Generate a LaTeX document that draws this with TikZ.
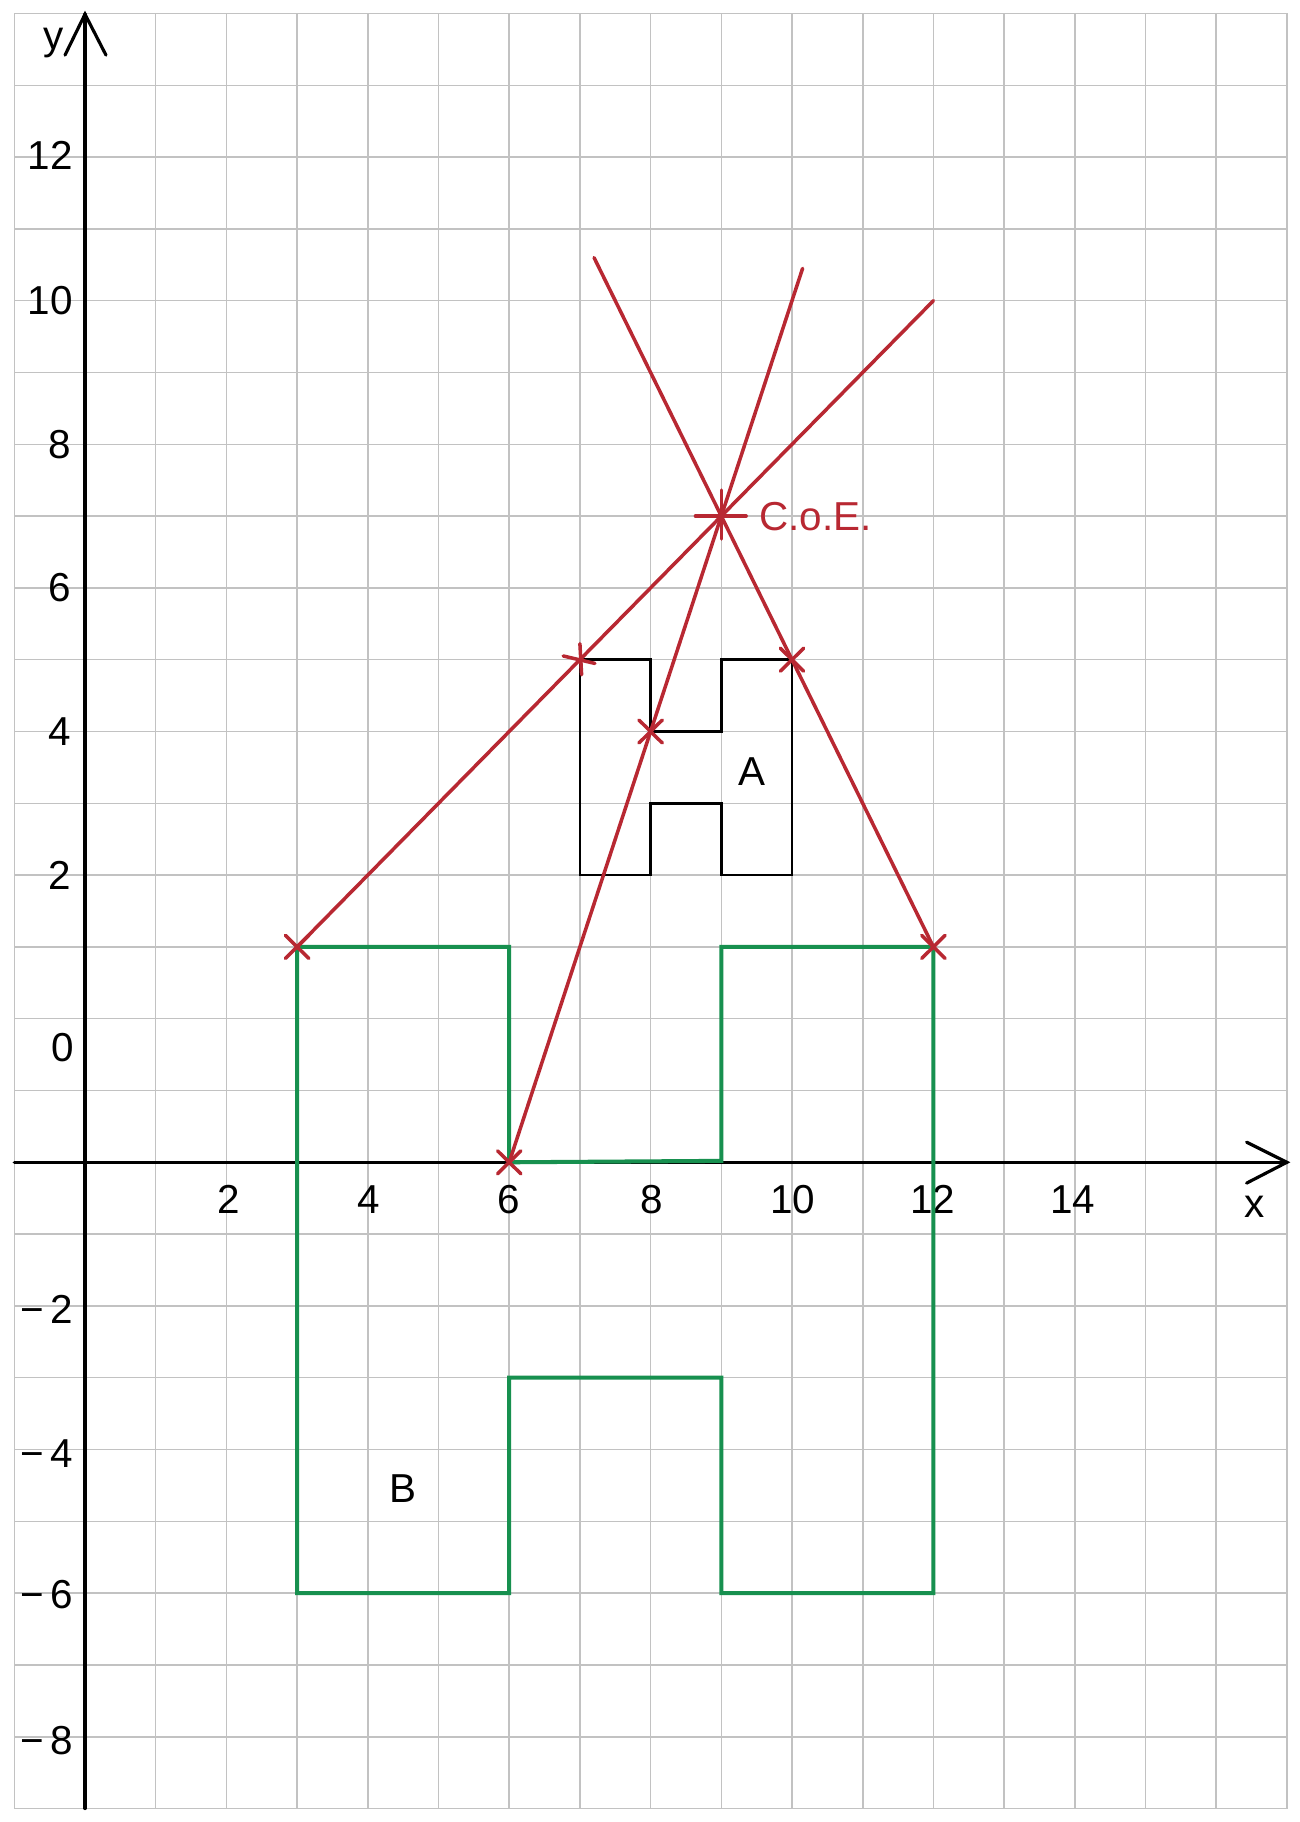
\documentclass[tikz,border=0pt]{standalone}
\usepackage{fontspec}
\setmainfont{Liberation Sans}
\definecolor{gridgray}{HTML}{C2C2C2}
\definecolor{coered}{HTML}{B82832}
\definecolor{shapegreen}{HTML}{17904F}
\begin{document}
\begin{tikzpicture}[x=1.414cm,y=1.436cm,
  lbl/.style={font=\fontsize{23}{27}\selectfont, inner sep=0pt},
  ylbl/.style={lbl, anchor=east},
  redlbl/.style={lbl, text=coered, anchor=west},
  axisline/.style={line width=1.8pt, line cap=round},
  shapeA/.style={draw=black, line width=1.5pt, line join=miter},
  shapeB/.style={draw=shapegreen, line width=2.3pt, line join=miter},
  redline/.style={draw=coered, line width=2pt, line cap=round},
  xmark/.pic={\draw[redline] (-0.165,-0.16) -- (0.165,0.16);
              \draw[redline] (-0.165,0.16) -- (0.165,-0.16);}
]
\useasboundingbox (-1.2023,-9.188) rectangle (17.185,16.188);
\fill[white] (-1.2023,-9.188) rectangle (17.185,16.188);
\draw[gridgray, line width=0.9pt, step={(1,1)}] (-1,-9) grid (17,16);

% axes
\coordinate (xs) at (-1,0);
\coordinate (xe) at (17,0);
\coordinate (xa1) at (16.43,0.28);
\coordinate (xa2) at (16.43,-0.29);
\coordinate (ys) at (0,-9);
\coordinate (ye) at (0,15.99);
\coordinate (ya1) at (-0.283,15.42);
\coordinate (ya2) at (0.297,15.42);
\draw[axisline] (xs) -- (xe);
\draw[axisline] (xa1) -- (xe) -- (xa2);
\draw[axisline] (ys) -- (ye);
\draw[axisline] (ya1) -- (ye) -- (ya2);
\node[lbl] (ylab) at (-0.45,15.59) {y};
\node[lbl] (xlab) at (16.54,-0.62) {x};

% y tick labels
\node[ylbl] (y12) at (-0.17,14.02) {12};
\node[ylbl] (y10) at (-0.17,12.0) {10};
\node[ylbl] (y8) at (-0.19,10.0) {8};
\node[ylbl] (y6) at (-0.19,8.0) {6};
\node[ylbl] (y4) at (-0.19,6.0) {4};
\node[ylbl] (y2) at (-0.19,4.0) {2};
\node[ylbl] (y0) at (-0.15,1.6) {0};
\node[ylbl] (ym2) at (-0.16,-2.05) {−\,2};
\node[ylbl] (ym4) at (-0.16,-4.06) {−\,4};
\node[ylbl] (ym6) at (-0.16,-6.02) {−\,6};
\node[ylbl] (ym8) at (-0.16,-8.06) {−\,8};

% x tick labels
\node[lbl] (x2) at (2.03,-0.52) {2};
\node[lbl] (x4) at (4.01,-0.52) {4};
\node[lbl] (x6) at (6.0,-0.52) {6};
\node[lbl] (x8) at (8.02,-0.52) {8};
\node[lbl] (x10) at (10.01,-0.52) {10};
\node[lbl] (x12) at (11.99,-0.52) {12};
\node[lbl] (x14) at (13.97,-0.52) {14};

% shape B (green)
\draw[shapeB] (3,3) -- (6,3) -- (6,0) -- (9,0.02) -- (9,3) -- (12,3) -- (12,-6)
  -- (9,-6) -- (9,-3) -- (6,-3) -- (6,-6) -- (3,-6) -- cycle;
\node[lbl] (B) at (4.5,-4.54) {B};

% shape A (black)
\draw[shapeA] (7,7) -- (8,7) -- (8,6) -- (9,6) -- (9,7) -- (10,7) -- (10,4)
  -- (9,4) -- (9,5) -- (8,5) -- (8,4) -- (7,4) -- cycle;
\node[lbl] (A) at (9.44,5.44) {A};

% points
\coordinate (P1) at (3,3);
\coordinate (P2) at (7,7);
\coordinate (Q1) at (6,0);
\coordinate (Q2) at (8,6);
\coordinate (R1) at (12,3);
\coordinate (R2) at (10,7);
\coordinate (C) at (9,9);
\coordinate (E1) at (12,12);
\coordinate (E2) at (10.15,12.45);
\coordinate (E3) at (7.2,12.6);

% red construction lines
\draw[redline] (P1) -- (P2) -- (C) -- (E1);
\draw[redline] (Q1) -- (Q2) -- (C) -- (E2);
\draw[redline] (R1) -- (R2) -- (C) -- (E3);

% markers
\pic at (P1) {xmark};
\pic at (Q1) {xmark};
\pic at (Q2) {xmark};
\pic at (R1) {xmark};
\pic at (R2) {xmark};
\draw[redline] ([shift={(-0.236,0.052)}]P2) -- ([shift={(0.212,-0.052)}]P2);
\draw[redline] ([shift={(0,0.223)}]P2) -- ([shift={(0.024,-0.209)}]P2);
\draw[redline] ([shift={(-0.366,0)}]C) -- ([shift={(0.351,0)}]C);
\draw[redline] ([shift={(0,0.363)}]C) -- ([shift={(0,-0.319)}]C);
\node[redlbl] (coe) at (9.53,9.0) {C.o.E.};
\end{tikzpicture}
\end{document}
